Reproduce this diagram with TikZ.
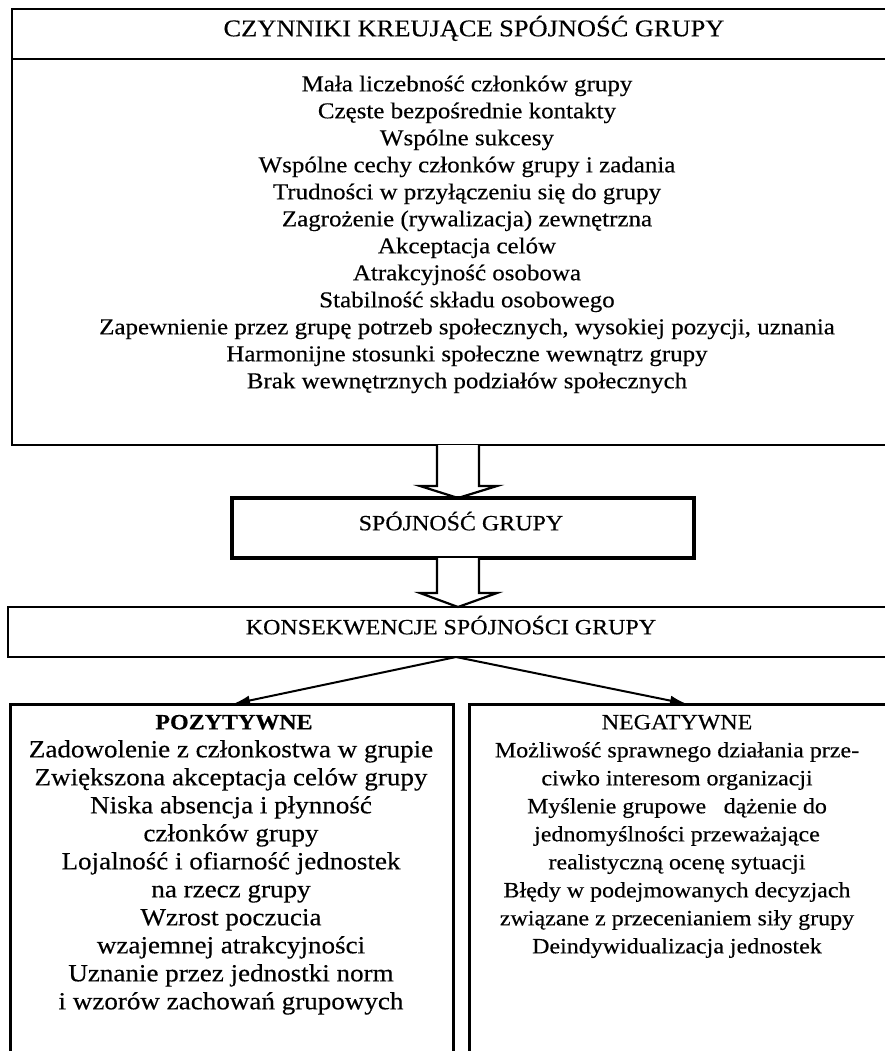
\documentclass[tikz,border=0pt]{standalone}
\usepackage{fontspec}
\setmainfont{Liberation Serif}[FakeStretch=1.1,FakeBold=0.3]
\usetikzlibrary{calc,arrows.meta}
\tikzset{
  boxline/.style={draw=black, line width=2.2pt},
  hollowarrow/.style={draw=black, line width=2.2pt, fill=white, line join=miter},
  headtext/.style={anchor=mid, inner sep=0pt, font=\fontsize{24}{26}\selectfont},
  toptext/.style={anchor=mid, inner sep=0pt, font=\fontsize{22.7}{26}\selectfont},
  midtext/.style={anchor=mid, inner sep=0pt, font=\fontsize{21.8}{26}\selectfont},
  lefttext/.style={anchor=mid, inner sep=0pt, font=\fontsize{24.6}{26}\selectfont},
  righttext/.style={anchor=mid, inner sep=0pt, font=\fontsize{21.8}{26}\selectfont},
  diag/.style={draw=black, line width=2pt, -{Latex[length=17pt,width=10pt]}}
}
\begin{document}
\begin{tikzpicture}[x=1pt,y=-1pt]
\useasboundingbox (0,0) rectangle (885,1051);
\clip (0,0) rectangle (885,1051);

% top box
\draw[boxline] (12,9) rectangle (897,445);
\coordinate (divL) at (12,59);
\coordinate (divR) at (897,59);
\draw[boxline] (divL) -- (divR);
\node[headtext] (head) at (474,34) {CZYNNIKI KREUJĄCE SPÓJNOŚĆ GRUPY};
\foreach \t [count=\i] in {
  Mała liczebność członków grupy,
  Częste bezpośrednie kontakty,
  Wspólne sukcesy,
  Wspólne cechy członków grupy i zadania,
  Trudności w przyłączeniu się do grupy,
  Zagrożenie (rywalizacja) zewnętrzna,
  Akceptacja celów,
  Atrakcyjność osobowa,
  Stabilność składu osobowego,
  {Zapewnienie przez grupę potrzeb społecznych, wysokiej pozycji, uznania},
  Harmonijne stosunki społeczne wewnątrz grupy,
  Brak wewnętrznych podziałów społecznych}
  \node[toptext] (b\i) at (467,{89+27*(\i-1)}) {\t};

% middle box
\node[draw=black, line width=3.6pt, minimum width=462pt, minimum height=60pt, inner sep=0pt] (mid) at (463,528) {};
\node[midtext] (midt) at (461,528) {SPÓJNOŚĆ GRUPY};

% konsekwencje box
\draw[boxline] (8,607) rectangle (897,657);
\node[midtext] (kons) at (451,632) {KONSEKWENCJE SPÓJNOŚCI GRUPY};

% hollow arrows
\coordinate (a1s) at (458,445);
\coordinate (a1e) at (458,498);
\draw[hollowarrow] ($(a1s)+(-21,0)$) -- ($(a1e)+(-21,-12)$) -- ($(a1e)+(-38,-12)$) -- (a1e)
  -- ($(a1e)+(39,-12)$) -- ($(a1e)+(21,-12)$) -- ($(a1s)+(21,0)$);
\coordinate (a2s) at (458,558);
\coordinate (a2e) at (458,607);
\draw[hollowarrow] ($(a2s)+(-21,0)$) -- ($(a2e)+(-21,-14)$) -- ($(a2e)+(-38,-14)$) -- (a2e)
  -- ($(a2e)+(39,-14)$) -- ($(a2e)+(21,-14)$) -- ($(a2s)+(21,0)$);
\draw[boxline] (8,607) -- (897,607);
\draw[draw=black, line width=3.6pt] (232,498) -- (694,498);

% bottom boxes
\draw[draw=black, line width=3pt] (10,704) rectangle (453,1055);
\draw[draw=black, line width=3pt] (469,704) rectangle (897,1055);

% diagonal arrows
\coordinate (d0) at (456,657);
\coordinate (dl) at (233,704);
\coordinate (dr) at (687,704);
\draw[diag] (d0) -- (dl);
\draw[diag] (d0) -- (dr);

% left texts
\node[righttext] (pz) at (234,727) {\bfseries POZYTYWNE};
\foreach \t [count=\i] in {
  Zadowolenie z członkostwa w grupie,
  Zwiększona akceptacja celów grupy,
  Niska absencja i płynność,
  członków grupy,
  Lojalność i ofiarność jednostek,
  na rzecz grupy,
  Wzrost poczucia,
  wzajemnej atrakcyjności,
  Uznanie przez jednostki norm,
  i wzorów zachowań grupowych}
  \node[lefttext] (l\i) at (231,{727+28*\i}) {\t};

% right texts
\node[righttext] (ng) at (677,727) {NEGATYWNE};
\foreach \t [count=\i] in {
  Możliwość sprawnego działania prze-,
  ciwko interesom organizacji,
  Myślenie grupowe\hspace{0.8em}dążenie do,
  jednomyślności przeważające,
  realistyczną ocenę sytuacji,
  Błędy w podejmowanych decyzjach,
  związane z przecenianiem siły grupy,
  Deindywidualizacja jednostek}
  \node[righttext] (r\i) at (677,{727+28*\i}) {\t};
\end{tikzpicture}
\end{document}
